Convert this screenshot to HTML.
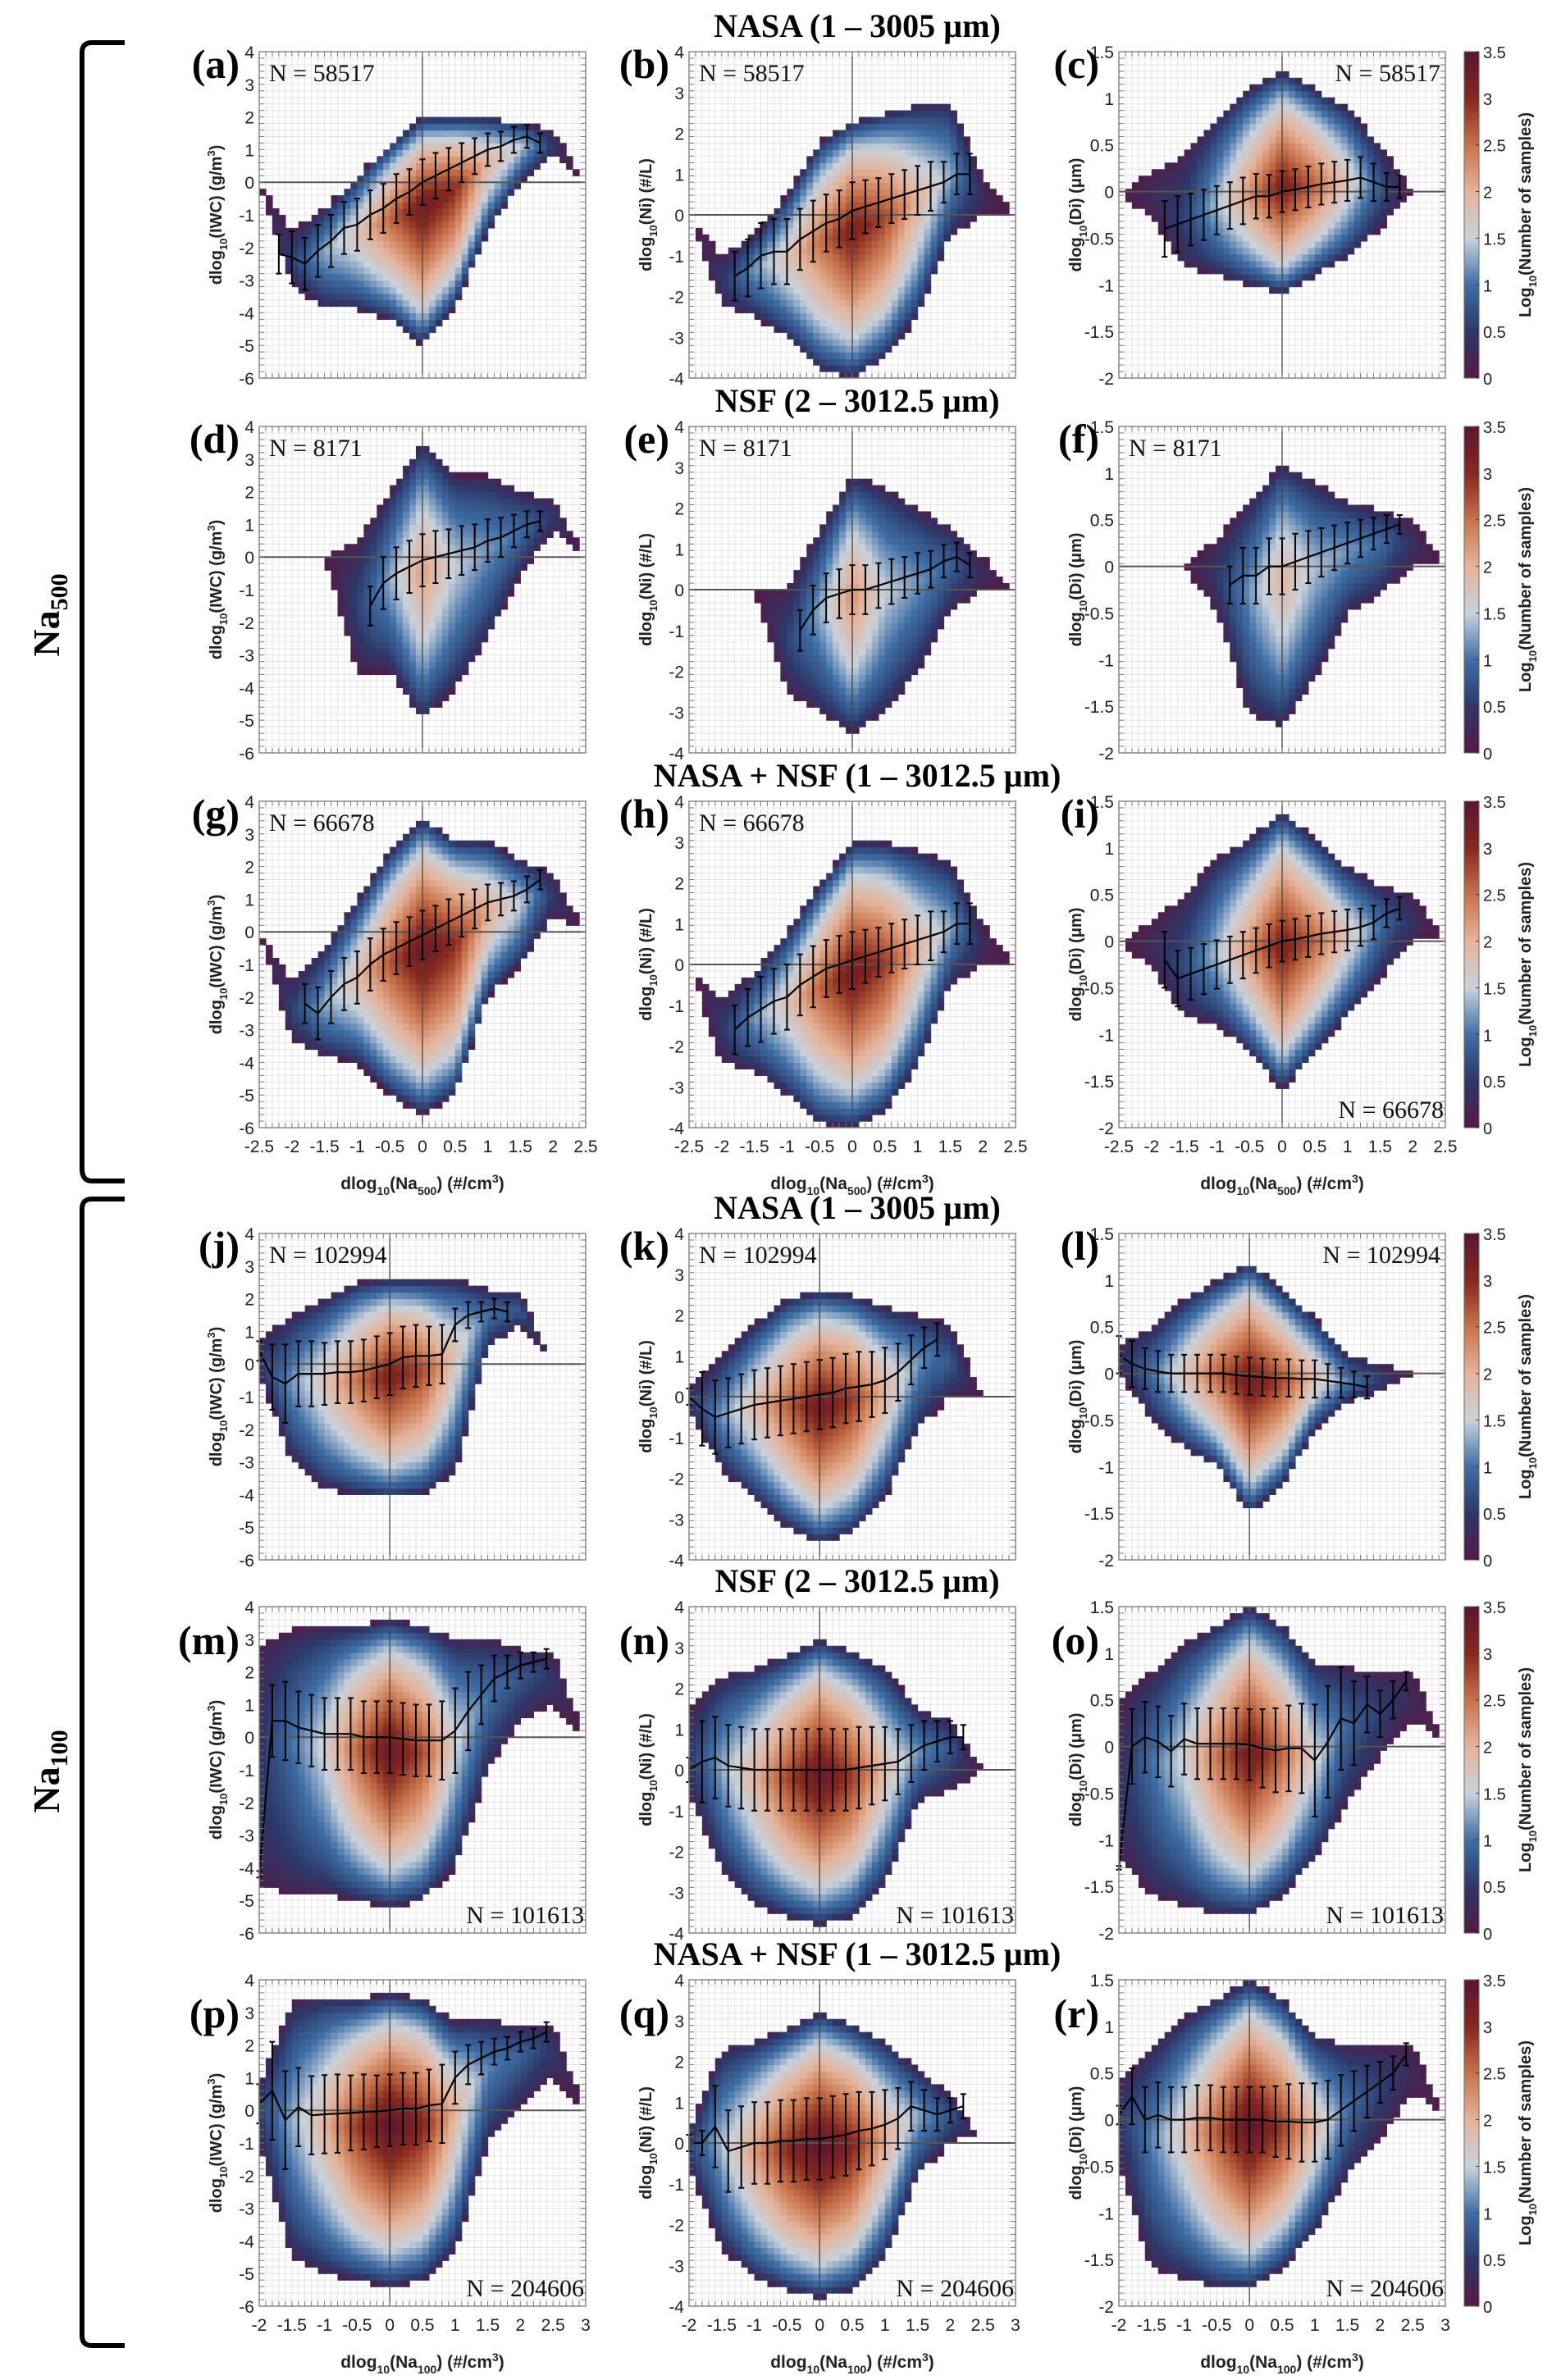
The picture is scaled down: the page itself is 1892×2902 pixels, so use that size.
<!DOCTYPE html>
<html><head><meta charset="utf-8">
<style>
html,body{margin:0;padding:0;background:#fff;}
svg{display:block;}
</style></head>
<body>
<svg id="fig" xmlns="http://www.w3.org/2000/svg" width="1892" height="2902" viewBox="0 0 1892 2902">
<rect x="0" y="0" width="1892" height="2902" fill="#fff"/>
<g id="brackets" fill="none" stroke="#000" stroke-width="6">
<path d="M152,52 L112,52 Q100,52 100,64 L100,1425 Q100,1440 112,1440 L152,1440"/>
<path d="M152,1462 L112,1462 Q100,1462 100,1474 L100,2848 Q100,2860 112,2860 L152,2860"/>
</g>
<text transform="translate(72,750) rotate(-90)" text-anchor="middle" font-family="Liberation Serif, serif" font-weight="bold" font-size="46">Na<tspan font-size="30" dy="10">500</tspan></text>
<text transform="translate(72,2160) rotate(-90)" text-anchor="middle" font-family="Liberation Serif, serif" font-weight="bold" font-size="46">Na<tspan font-size="30" dy="10">100</tspan></text>
<g id="panels"></g>
</svg>
<script>
// ---------- shared data ----------
const knots500 = [-2.5,-2,-1.5,-1,-0.5,0,0.5,1,1.5,2,2.5];
const knots100 = [-2,-1.5,-1,-0.5,0,0.5,1,1.5,2,2.5,3];
const rowTitles = ["NASA (1 – 3005 µm)","NSF (2 – 3012.5 µm)","NASA + NSF (1 – 3012.5 µm)","NASA (1 – 3005 µm)","NSF (2 – 3012.5 µm)","NASA + NSF (1 – 3012.5 µm)"];
const cbTicks = [0,0.5,1,1.5,2,2.5,3,3.5];
const ticksIWC = [-6,-5,-4,-3,-2,-1,0,1,2,3,4];
const ticksNi = [-4,-3,-2,-1,0,1,2,3,4];
const ticksDi = [-2,-1.5,-1,-0.5,0,0.5,1,1.5];
const ticksX500 = [-2.5,-2,-1.5,-1,-0.5,0,0.5,1,1.5,2,2.5];
const ticksX100 = [-2,-1.5,-1,-0.5,0,0.5,1,1.5,2,2.5,3];

// envelope (lo/hi) and peak density per knot; mean & std of binned curve
const a_lo=[0,-3.2,-3.8,-3.9,-4.2,-5,-3.8,-1.5,0,0.8,0], a_hi=[0,-1.5,-0.8,0.2,1.2,2.0,2.0,2.0,1.8,1.6,0], a_pk=[0,0.6,1.3,1.8,2.6,3.3,3.0,2.0,1.5,0.5,0];
const a_mean=[-2.2,-2.3,-2.5,-2.1,-1.8,-1.4,-1.3,-1.0,-0.8,-0.5,-0.3,0,0.2,0.4,0.6,0.8,1.0,1.1,1.3,1.4,1.2];
const a_sd=[0.6,0.8,0.8,0.8,0.8,0.8,0.8,0.75,0.75,0.75,0.7,0.7,0.7,0.65,0.6,0.55,0.5,0.45,0.4,0.35,0.3];
const b_lo=[0,-2.2,-2.5,-3,-3.8,-4,-3.5,-2.5,-0.5,0,0], b_hi=[0,-1,-0.5,0.5,1.8,2.3,2.5,2.7,2.8,0.9,0], b_pk=[0,0.5,1.2,1.8,2.5,3.2,2.8,2.0,1.3,0.3,0];
const b_mean=[-1.5,-1.3,-1.0,-0.9,-0.9,-0.6,-0.4,-0.2,-0.1,0.1,0.2,0.3,0.4,0.5,0.6,0.7,0.8,1.0,1.0];
const b_sd=[0.6,0.7,0.8,0.8,0.8,0.75,0.75,0.7,0.7,0.7,0.65,0.6,0.6,0.6,0.6,0.6,0.5,0.5,0.5];
const c_lo=[0,-0.3,-0.8,-0.9,-1.0,-1.1,-0.9,-0.7,-0.4,0,0], c_hi=[0,0.2,0.4,0.8,1.1,1.3,1.1,0.9,0.5,0,0], c_pk=[0,0.3,0.6,1.4,2.3,3.2,2.6,1.8,0.8,0,0];
const c_mean=[-0.4,-0.35,-0.3,-0.25,-0.2,-0.15,-0.1,-0.05,-0.05,0,0.02,0.05,0.08,0.1,0.12,0.15,0.1,0.05,0.05];
const c_sd=[0.3,0.3,0.28,0.27,0.26,0.25,0.25,0.24,0.23,0.22,0.22,0.22,0.22,0.22,0.22,0.22,0.2,0.15,0.12];
const d_lo=[0,0,0,-3.5,-3.5,-5,-4,-2.5,-0.5,0.8,0], d_hi=[0,0,0,0.5,2,3.5,2.5,2.5,2,1.8,0], d_pk=[0,0,0,0.6,1.3,2.2,1.5,1.2,1.0,0.5,0];
const d_mean=[-1.5,-0.8,-0.5,-0.3,-0.1,0,0.1,0.2,0.3,0.5,0.6,0.8,1.0,1.1];
const d_sd=[0.6,0.8,0.8,0.8,0.8,0.8,0.75,0.75,0.7,0.65,0.6,0.5,0.4,0.3];
const e_lo=[0,0,0,-2.5,-3,-3.5,-3,-2,-0.5,0,0], e_hi=[0,0,0,0,1.5,2.8,2.5,2,1.5,0.8,0], e_pk=[0,0,0,0.6,1.3,2.3,1.5,1.2,0.9,0.3,0];
const e_mean=[-1.0,-0.5,-0.2,-0.1,0,0,0.1,0.2,0.3,0.4,0.5,0.7,0.8,0.6];
const e_sd=[0.5,0.6,0.6,0.6,0.6,0.6,0.55,0.55,0.5,0.5,0.45,0.4,0.35,0.3];
const f_lo=[0,0,0,-0.5,-1.6,-1.7,-1.2,-0.5,-0.3,0,0], f_hi=[0,0,0,0.3,0.7,1.1,0.9,0.7,0.6,0.5,0], f_pk=[0,0,0,0.5,1.2,2.0,1.4,1.2,1.0,0.4,0];
const f_mean=[-0.2,-0.1,-0.1,0,0,0.05,0.1,0.15,0.2,0.25,0.3,0.35,0.4,0.45];
const f_sd=[0.2,0.3,0.3,0.3,0.3,0.3,0.28,0.26,0.24,0.22,0.2,0.17,0.15,0.1];
const g_lo=[0,-3.3,-3.8,-4,-5,-5.6,-5,-2,-1,0.5,0], g_hi=[0,-1.5,-0.5,1,2.5,3.5,2.8,2.8,2.2,1.8,0], g_pk=[0,0.6,1.3,1.9,2.7,3.4,3.0,2.1,1.5,0.5,0];
const g_mean=[-2.2,-2.5,-2.0,-1.6,-1.4,-1.0,-0.7,-0.5,-0.3,-0.1,0.1,0.3,0.5,0.7,0.9,1.0,1.1,1.3,1.6];
const g_sd=[0.6,0.8,0.8,0.8,0.8,0.8,0.8,0.8,0.75,0.75,0.7,0.7,0.65,0.6,0.55,0.5,0.45,0.4,0.3];
const h_lo=[0,-2.4,-2.6,-3.2,-3.9,-4,-3.6,-2.5,-0.5,0,0], h_hi=[0,-0.8,-0.2,0.8,2,3,3,2.8,2.5,1,0], h_pk=[0,0.5,1.2,1.8,2.6,3.3,2.9,2.0,1.3,0.3,0];
const h_mean=[-1.6,-1.3,-1.1,-0.9,-0.8,-0.5,-0.3,-0.1,0,0.1,0.2,0.3,0.4,0.5,0.6,0.7,0.8,1.0,1.0];
const h_sd=[0.6,0.7,0.8,0.8,0.8,0.75,0.75,0.7,0.7,0.7,0.65,0.6,0.6,0.6,0.6,0.6,0.5,0.5,0.5];
const i_lo=[0,-0.3,-0.8,-0.9,-1.2,-1.6,-1.2,-0.8,-0.4,0,0], i_hi=[0,0.2,0.5,0.9,1.1,1.4,1.1,0.8,0.6,0.5,0], i_pk=[0,0.3,0.7,1.4,2.3,3.2,2.6,1.8,1.0,0.4,0];
const i_mean=[-0.2,-0.4,-0.35,-0.3,-0.25,-0.2,-0.15,-0.1,-0.05,0,0.02,0.05,0.08,0.1,0.12,0.15,0.2,0.3,0.35];
const i_sd=[0.3,0.3,0.28,0.27,0.26,0.25,0.25,0.24,0.23,0.22,0.22,0.22,0.22,0.22,0.22,0.2,0.18,0.15,0.12];
const j_lo=[-0.3,-3.0,-3.8,-4,-4.1,-4.0,-3.3,0.5,1.2,0,0], j_hi=[0.8,1.5,2.0,2.5,2.6,2.6,2.6,2.3,2.2,0,0], j_pk=[0.5,1.2,1.8,2.5,3.2,2.8,1.8,1.0,0.8,0,0];
const j_mean=[0.4,-0.4,-0.6,-0.3,-0.3,-0.3,-0.25,-0.25,-0.2,-0.1,0,0.2,0.25,0.25,0.3,1.2,1.5,1.6,1.7,1.6];
const j_sd=[0.3,1.0,1.2,1.0,1.0,0.95,0.95,0.95,0.95,0.95,0.95,0.95,0.95,0.9,0.9,0.5,0.4,0.3,0.3,0.3];
const k_lo=[-0.3,-1.8,-2.5,-3.2,-3.6,-3.3,-2.5,-0.8,0,0,0], k_hi=[0.2,1.0,1.8,2.4,2.6,2.5,2.2,2.0,1.8,0,0], k_pk=[0.5,1.2,1.9,2.6,3.3,2.9,2.0,1.2,0.8,0,0];
const k_mean=[0,-0.3,-0.5,-0.4,-0.3,-0.2,-0.15,-0.1,-0.05,0,0.05,0.1,0.2,0.25,0.3,0.4,0.6,0.9,1.2,1.4];
const k_sd=[0.2,0.9,0.9,0.85,0.85,0.85,0.85,0.85,0.85,0.85,0.85,0.85,0.85,0.85,0.8,0.8,0.7,0.6,0.5,0.4];
const l_lo=[0,-0.5,-0.8,-1.0,-1.5,-1.2,-0.6,-0.3,-0.2,0,0], l_hi=[0.3,0.5,0.8,1.0,1.2,0.9,0.6,0.2,0.1,0,0], l_pk=[0.4,1.0,1.8,2.6,3.3,2.8,1.9,1.1,0.6,0,0];
const l_mean=[0.2,0.1,0.05,0.02,0,0,0,0,0,-0.02,-0.03,-0.04,-0.05,-0.05,-0.06,-0.06,-0.08,-0.1,-0.12,-0.15];
const l_sd=[0.2,0.25,0.22,0.22,0.2,0.2,0.2,0.2,0.2,0.2,0.2,0.2,0.2,0.2,0.2,0.2,0.18,0.16,0.14,0.12];
const m_lo=[-4.5,-4.8,-4.8,-5,-5.2,-5,-4,-1,0.5,1,0], m_hi=[2.8,3.3,3.4,3.4,3.6,3.4,3.0,3.0,2.7,2.6,0], m_pk=[0.5,1.0,1.6,2.6,3.4,2.8,1.6,1.0,0.8,0.5,0];
const m_mean=[-4.2,0.5,0.5,0.3,0.2,0.1,0.1,0.1,0,0,0,-0.05,-0.1,-0.1,-0.1,0.2,0.8,1.3,1.8,2.0,2.2,2.3,2.4];
const m_sd=[0.1,1.1,1.2,1.1,1.1,1.1,1.1,1.1,1.1,1.1,1.1,1.1,1.1,1.1,1.2,1.3,1.2,0.9,0.7,0.5,0.4,0.3,0.3];
const n_lo=[-0.6,-2.5,-3.3,-3.6,-3.8,-3.6,-2.8,-0.8,-0.5,0,0], n_hi=[1.5,2.3,2.5,2.8,3.2,2.9,2.5,1.5,1.2,0,0], n_pk=[0.5,1.3,2.0,2.8,3.4,2.9,1.9,1.2,0.8,0,0];
const n_mean=[0,0.2,0.3,0.1,0.05,0,0,0,0,0,0,0,0,0.05,0.1,0.15,0.2,0.4,0.6,0.7,0.8,0.8];
const n_sd=[0.3,1.0,1.0,1.0,1.0,1.0,1.0,1.0,1.0,1.0,1.0,1.0,1.0,1.0,0.95,0.9,0.8,0.7,0.6,0.5,0.4,0.3];
const o_lo=[-1.2,-1.6,-1.7,-1.8,-1.8,-1.6,-1.2,-0.6,-0.1,0.3,0], o_hi=[0.5,0.8,1.1,1.3,1.5,1.3,0.9,0.85,0.8,0.8,0], o_pk=[0.4,1.0,1.6,2.5,3.3,2.6,1.6,0.9,0.6,0.3,0];
const o_mean=[-1.3,0,0.1,0.05,-0.05,0.08,0.03,0.03,0.03,0.03,0.02,-0.02,-0.04,-0.02,-0.02,-0.15,0.05,0.3,0.25,0.45,0.35,0.5,0.7];
const o_sd=[0.02,0.4,0.38,0.38,0.38,0.38,0.38,0.38,0.38,0.38,0.38,0.42,0.45,0.46,0.48,0.6,0.6,0.55,0.45,0.3,0.25,0.2,0.1];
const p_lo=[-1,-4.5,-5,-5.2,-5.4,-5.2,-4.3,-1,0.2,1,0], p_hi=[0.8,3.3,3.5,3.4,3.6,3.4,2.7,2.8,2.6,2.6,0], p_pk=[0.6,1.3,2.0,2.9,3.5,3.1,2.0,1.1,0.9,0.5,0];
const p_mean=[0.2,0.6,-0.3,0.1,-0.15,-0.12,-0.1,-0.08,-0.05,-0.03,0,0.05,0.05,0.15,0.2,1.0,1.4,1.6,1.8,1.9,2.1,2.2,2.4];
const p_sd=[0.6,1.5,1.5,1.2,1.2,1.2,1.2,1.15,1.15,1.1,1.1,1.1,1.1,1.1,1.2,0.8,0.6,0.5,0.4,0.35,0.3,0.3,0.3];
const q_lo=[-0.6,-2.6,-3.3,-3.6,-3.8,-3.6,-2.8,-0.8,0,0.3,0], q_hi=[0.3,2.3,2.5,2.8,3.2,2.9,2.5,1.8,1.2,0,0], q_pk=[0.6,1.4,2.2,3.0,3.5,3.1,2.1,1.3,0.8,0,0];
const q_mean=[0,0,0.4,-0.2,-0.1,0,0,0.05,0.05,0.1,0.1,0.15,0.2,0.3,0.35,0.45,0.6,0.9,0.8,0.7,0.8,0.9];
const q_sd=[0.2,0.3,1.0,1.0,1.0,1.0,1.0,1.0,1.0,1.0,1.0,1.0,1.0,0.95,0.9,0.85,0.75,0.6,0.5,0.4,0.3,0.3];
const r_lo=[-0.5,-1.6,-1.7,-1.8,-1.8,-1.6,-1.2,-0.6,-0.2,0.3,0], r_hi=[0.4,0.8,1.1,1.3,1.5,1.3,0.9,0.8,0.8,0.8,0], r_pk=[0.5,1.1,1.8,2.7,3.5,2.9,1.9,1.0,0.6,0.3,0];
const r_mean=[0.05,0.25,0,0.05,0,0,0.02,0.02,0,0,0,0,-0.02,-0.02,-0.03,-0.03,0,0.1,0.2,0.3,0.4,0.5,0.7];
const r_sd=[0.1,0.3,0.35,0.35,0.35,0.35,0.35,0.35,0.35,0.35,0.35,0.35,0.38,0.4,0.42,0.42,0.42,0.38,0.32,0.28,0.22,0.18,0.12];

const meanStart = {a:-2.2,b:-1.8,c:-1.8,d:-0.8,e:-0.8,f:-0.8,g:-1.8,h:-1.8,i:-1.8,j:-2,k:-2,l:-2,m:-2,n:-2,o:-2,p:-2,q:-2,r:-2};
const nLabels = {a:"N = 58517",b:"N = 58517",c:"N = 58517",d:"N = 8171",e:"N = 8171",f:"N = 8171",g:"N = 66678",h:"N = 66678",i:"N = 66678",j:"N = 102994",k:"N = 102994",l:"N = 102994",m:"N = 101613",n:"N = 101613",o:"N = 101613",p:"N = 204606",q:"N = 204606",r:"N = 204606"};
const nPos = {a:"tl",b:"tl",c:"tr",d:"tl",e:"tl",f:"tl",g:"tl",h:"tl",i:"br",j:"tl",k:"tl",l:"tr",m:"br",n:"br",o:"br",p:"br",q:"br",r:"br"};
const DATA = {a:[a_lo,a_hi,a_pk,a_mean,a_sd],b:[b_lo,b_hi,b_pk,b_mean,b_sd],c:[c_lo,c_hi,c_pk,c_mean,c_sd],d:[d_lo,d_hi,d_pk,d_mean,d_sd],e:[e_lo,e_hi,e_pk,e_mean,e_sd],f:[f_lo,f_hi,f_pk,f_mean,f_sd],g:[g_lo,g_hi,g_pk,g_mean,g_sd],h:[h_lo,h_hi,h_pk,h_mean,h_sd],i:[i_lo,i_hi,i_pk,i_mean,i_sd],j:[j_lo,j_hi,j_pk,j_mean,j_sd],k:[k_lo,k_hi,k_pk,k_mean,k_sd],l:[l_lo,l_hi,l_pk,l_mean,l_sd],m:[m_lo,m_hi,m_pk,m_mean,m_sd],n:[n_lo,n_hi,n_pk,n_mean,n_sd],o:[o_lo,o_hi,o_pk,o_mean,o_sd],p:[p_lo,p_hi,p_pk,p_mean,p_sd],q:[q_lo,q_hi,q_pk,q_mean,q_sd],r:[r_lo,r_hi,r_pk,r_mean,r_sd]};

// ---------- layout ----------
const NS="http://www.w3.org/2000/svg";
const colL=[316,840,1364], rowT=[63,520,977,1504,1959,2414], PW=398, PH=398;
const colY=[[-6,4,ticksIWC,"IWC","(g/m","3"],[-4,4,ticksNi,"Ni","(#/L)",""],[-2,1.5,ticksDi,"Di","(\u03bcm)",""]];
const stops=[[0,[88,24,66]],[0.5,[45,55,105]],[1,[62,110,165]],[1.5,[200,210,220]],[2,[228,180,155]],[2.5,[200,115,75]],[3,[135,40,30]],[3.5,[90,22,48]]];
function cmap(v){v=Math.max(0,Math.min(3.5,v));for(let i=0;i<stops.length-1;i++){const a=stops[i],b=stops[i+1];if(v<=b[0]){const t=(v-a[0])/(b[0]-a[0]);return "rgb("+a[1].map((c,k)=>Math.round(c+(b[1][k]-c)*t)).join(",")+")";}}return "rgb(90,22,48)";}
function el(tag,attrs,parent){const e=document.createElementNS(NS,tag);for(const k in attrs)e.setAttribute(k,attrs[k]);if(parent)parent.appendChild(e);return e;}
function interp(xs,ys,x){if(x<xs[0]||x>xs[xs.length-1])return 0;for(let i=0;i<xs.length-1;i++){if(x<=xs[i+1]){const t=(x-xs[i])/(xs[i+1]-xs[i]);return ys[i]+(ys[i+1]-ys[i])*t;}}return ys[ys.length-1];}
function meanAt(arr,start,x){const f=(x-start)/0.2;if(f<0||f>arr.length-1)return null;const i=Math.min(Math.floor(f),arr.length-2);const t=f-i;return arr[i]+(arr[i+1]-arr[i])*t;}
const root=document.getElementById('panels');
const letters="abcdefghijklmnopqr";

rowTitles.forEach((t,r)=>{
  const tx=el('text',{x:1045,y:rowT[r]-18,'text-anchor':'middle','font-family':'Liberation Serif, serif','font-weight':'bold','font-size':'40'},root);
  
  
  tx.textContent=t;
});

for(let r=0;r<6;r++){
  const na100=r>=3;
  const x0=na100?-2:-2.5, x1=na100?3:2.5;
  const knots=na100?knots100:knots500;
  const xt=na100?ticksX100:ticksX500;
  for(let c=0;c<3;c++){
    const id=letters[r*3+c];
    const [y0,y1,yt,qty,unit,sup]=colY[c];
    const L=colL[c],T=rowT[r];
    const sx=v=>L+(v-x0)/(x1-x0)*PW;
    const sy=v=>T+PH-(v-y0)/(y1-y0)*PH;
    const g=el('g',{},root);
    
    
    el('rect',{x:L,y:T,width:PW,height:PH,fill:'#fff'},g);
    const grid=el('g',{stroke:'#e4e4e4','stroke-width':'1'},g);
    
    
    const nx=50, ny=50, dx=(x1-x0)/nx, dy=(y1-y0)/ny;
    for(let i=1;i<nx;i++){el('line',{x1:L+i*PW/nx,y1:T,x2:L+i*PW/nx,y2:T+PH},grid);}
    for(let i=1;i<ny;i++){el('line',{x1:L,y1:T+i*PH/ny,x2:L+PW,y2:T+i*PH/ny},grid);}
    const [lo,hi,pk,mean,sd]=DATA[id];
    const hm=el('g',{},g);
    
    
    for(let i=0;i<nx;i++){
      const xc=x0+(i+0.5)*dx;
      const p=interp(knots,pk,xc); if(p<=0.05) continue;
      const l=interp(knots,lo,xc), h=interp(knots,hi,xc);
      if(h<=l) continue;
      let ctr=(l+h)/2;
      const mv=meanAt(mean,meanStart[id],xc);
      if(mv!==null){ctr=0.5*ctr+0.5*Math.max(l+0.15*(h-l),Math.min(h-0.15*(h-l),mv));}
      for(let j=0;j<ny;j++){
        const yc=y0+(j+0.5)*dy;
        if(yc<l||yc>h) continue;
        const t=yc>=ctr?(yc-ctr)/(h-ctr):(ctr-yc)/(ctr-l);
        const v=0.12+Math.max(0,p-0.12)*Math.pow(Math.max(0,1-t),0.6);
        const cell=el('rect',{x:sx(x0+i*dx).toFixed(1),y:sy(y0+(j+1)*dy).toFixed(1),width:(PW/nx+0.6).toFixed(1),height:(PH/ny+0.6).toFixed(1),fill:cmap(v)},hm);
        
        
      }
    }
    const zh=el('line',{x1:L,y1:sy(0),x2:L+PW,y2:sy(0),stroke:'#555','stroke-width':'2'},g);
    
    
    const zv=el('line',{x1:sx(0),y1:T,x2:sx(0),y2:T+PH,stroke:'#444','stroke-width':'1.3'},g);
    
    
    const eb=el('g',{stroke:'#000','stroke-width':'2',fill:'none'},g);
    
    
    let d='';
    mean.forEach((m,k)=>{
      const xv=meanStart[id]+k*0.2, X=sx(xv);
      d+=(k?'L':'M')+X.toFixed(1)+','+sy(m).toFixed(1);
      const s=sd[k];
      el('line',{x1:X,y1:sy(m+s),x2:X,y2:sy(m-s)},eb);
      el('line',{x1:X-3.5,y1:sy(m+s),x2:X+3.5,y2:sy(m+s)},eb);
      el('line',{x1:X-3.5,y1:sy(m-s),x2:X+3.5,y2:sy(m-s)},eb);
    });
    const ml=el('path',{d:d,stroke:'#000','stroke-width':'2.2',fill:'none'},g);
    
    
    const fr=el('rect',{x:L,y:T,width:PW,height:PH,fill:'none',stroke:'#888','stroke-width':'1.5'},g);
    
    
    const tk=el('g',{stroke:'#777','stroke-width':'1'},g);
    
    
    for(let i=1;i<nx;i++){const X=L+i*PW/nx;el('line',{x1:X,y1:T+PH,x2:X,y2:T+PH-6},tk);el('line',{x1:X,y1:T,x2:X,y2:T+6},tk);}
    for(let i=1;i<ny;i++){const Y=T+i*PH/ny;el('line',{x1:L,y1:Y,x2:L+6,y2:Y},tk);el('line',{x1:L+PW,y1:Y,x2:L+PW-6,y2:Y},tk);}
    yt.forEach(v=>{
      const tx=el('text',{x:L-6,y:sy(v)+8,'text-anchor':'end','font-family':'Liberation Sans, sans-serif','font-size':'21',fill:'#222'},g);
      
      
      tx.textContent=String(v);
    });
    if(r===2||r===5){
      xt.forEach(v=>{
        const tx=el('text',{x:sx(v),y:T+PH+30,'text-anchor':'middle','font-family':'Liberation Sans, sans-serif','font-size':'21',fill:'#222'},g);
        
        
        tx.textContent=String(v);
      });
      const xl=el('text',{x:L+PW/2,y:T+PH+75,'text-anchor':'middle','font-family':'Liberation Sans, sans-serif','font-weight':'bold','font-size':'21',fill:'#222'},g);
      
      
      xl.innerHTML='dlog<tspan font-size="14" dy="7">10</tspan><tspan dy="-7">(Na</tspan><tspan font-size="14" dy="7">'+(na100?'100':'500')+'</tspan><tspan dy="-7">) (#/cm</tspan><tspan font-size="14" dy="-8">3</tspan><tspan dy="8">)</tspan>';
    }
    const yl=el('text',{transform:'translate('+(L-46)+','+(T+PH/2)+') rotate(-90)','text-anchor':'middle','font-family':'Liberation Sans, sans-serif','font-weight':'bold','font-size':'20',fill:'#222'},g);
    
    
    yl.innerHTML='dlog<tspan font-size="13" dy="7">10</tspan><tspan dy="-7">('+qty+') '+unit+'</tspan>'+(sup?'<tspan font-size="13" dy="-8">'+sup+'</tspan><tspan dy="8">)</tspan>':'');
    const lt=el('text',{x:L-24,y:T+(r>=4?58:32),'text-anchor':'end','font-family':'Liberation Serif, serif','font-weight':'bold','font-size':'50'},g);
    
    
    lt.textContent='('+id+')';
    const pos=nPos[id];
    const na={'font-family':'Liberation Serif, serif','font-size':'30',fill:'#111'};
    if(pos==='tl'){na.x=L+12;na.y=T+36;na['text-anchor']='start';}
    else if(pos==='tr'){na.x=L+PW-6;na.y=T+36;na['text-anchor']='end';}
    else {na.x=L+PW-2;na.y=T+PH-12;na['text-anchor']='end';}
    const nt=el('text',na,g);
    
    
    nt.textContent=nLabels[id];
  }
  const cb=el('g',{},root);
  
  
  const T=rowT[r], CX=1785, CW=18;
  for(let k=0;k<140;k++){
    const v=k*3.5/140;
    el('rect',{x:CX,y:(T+PH-(k+1)*PH/140).toFixed(2),width:CW,height:(PH/140+0.5).toFixed(2),fill:cmap(v+1.75/140)},cb);
  }
  el('rect',{x:CX,y:T,width:CW,height:PH,fill:'none',stroke:'#666','stroke-width':'1'},cb);
  cbTicks.forEach(v=>{
    const Y=T+PH-v/3.5*PH;
    el('line',{x1:CX+CW-4,y1:Y,x2:CX+CW,y2:Y,stroke:'#333'},cb);
    const tx=el('text',{x:CX+CW+5,y:Y+8,'font-family':'Liberation Sans, sans-serif','font-size':'20',fill:'#222'},cb);
    
    
    tx.textContent=String(v);
  });
  const cl=el('text',{transform:'translate(1866,'+(T+PH/2)+') rotate(-90)','text-anchor':'middle','font-family':'Liberation Sans, sans-serif','font-weight':'bold','font-size':'20',fill:'#222'},cb);
  
  
  cl.innerHTML='Log<tspan font-size="13" dy="7">10</tspan><tspan dy="-7">(Number of samples)</tspan>';
}
</script>
</body></html>
